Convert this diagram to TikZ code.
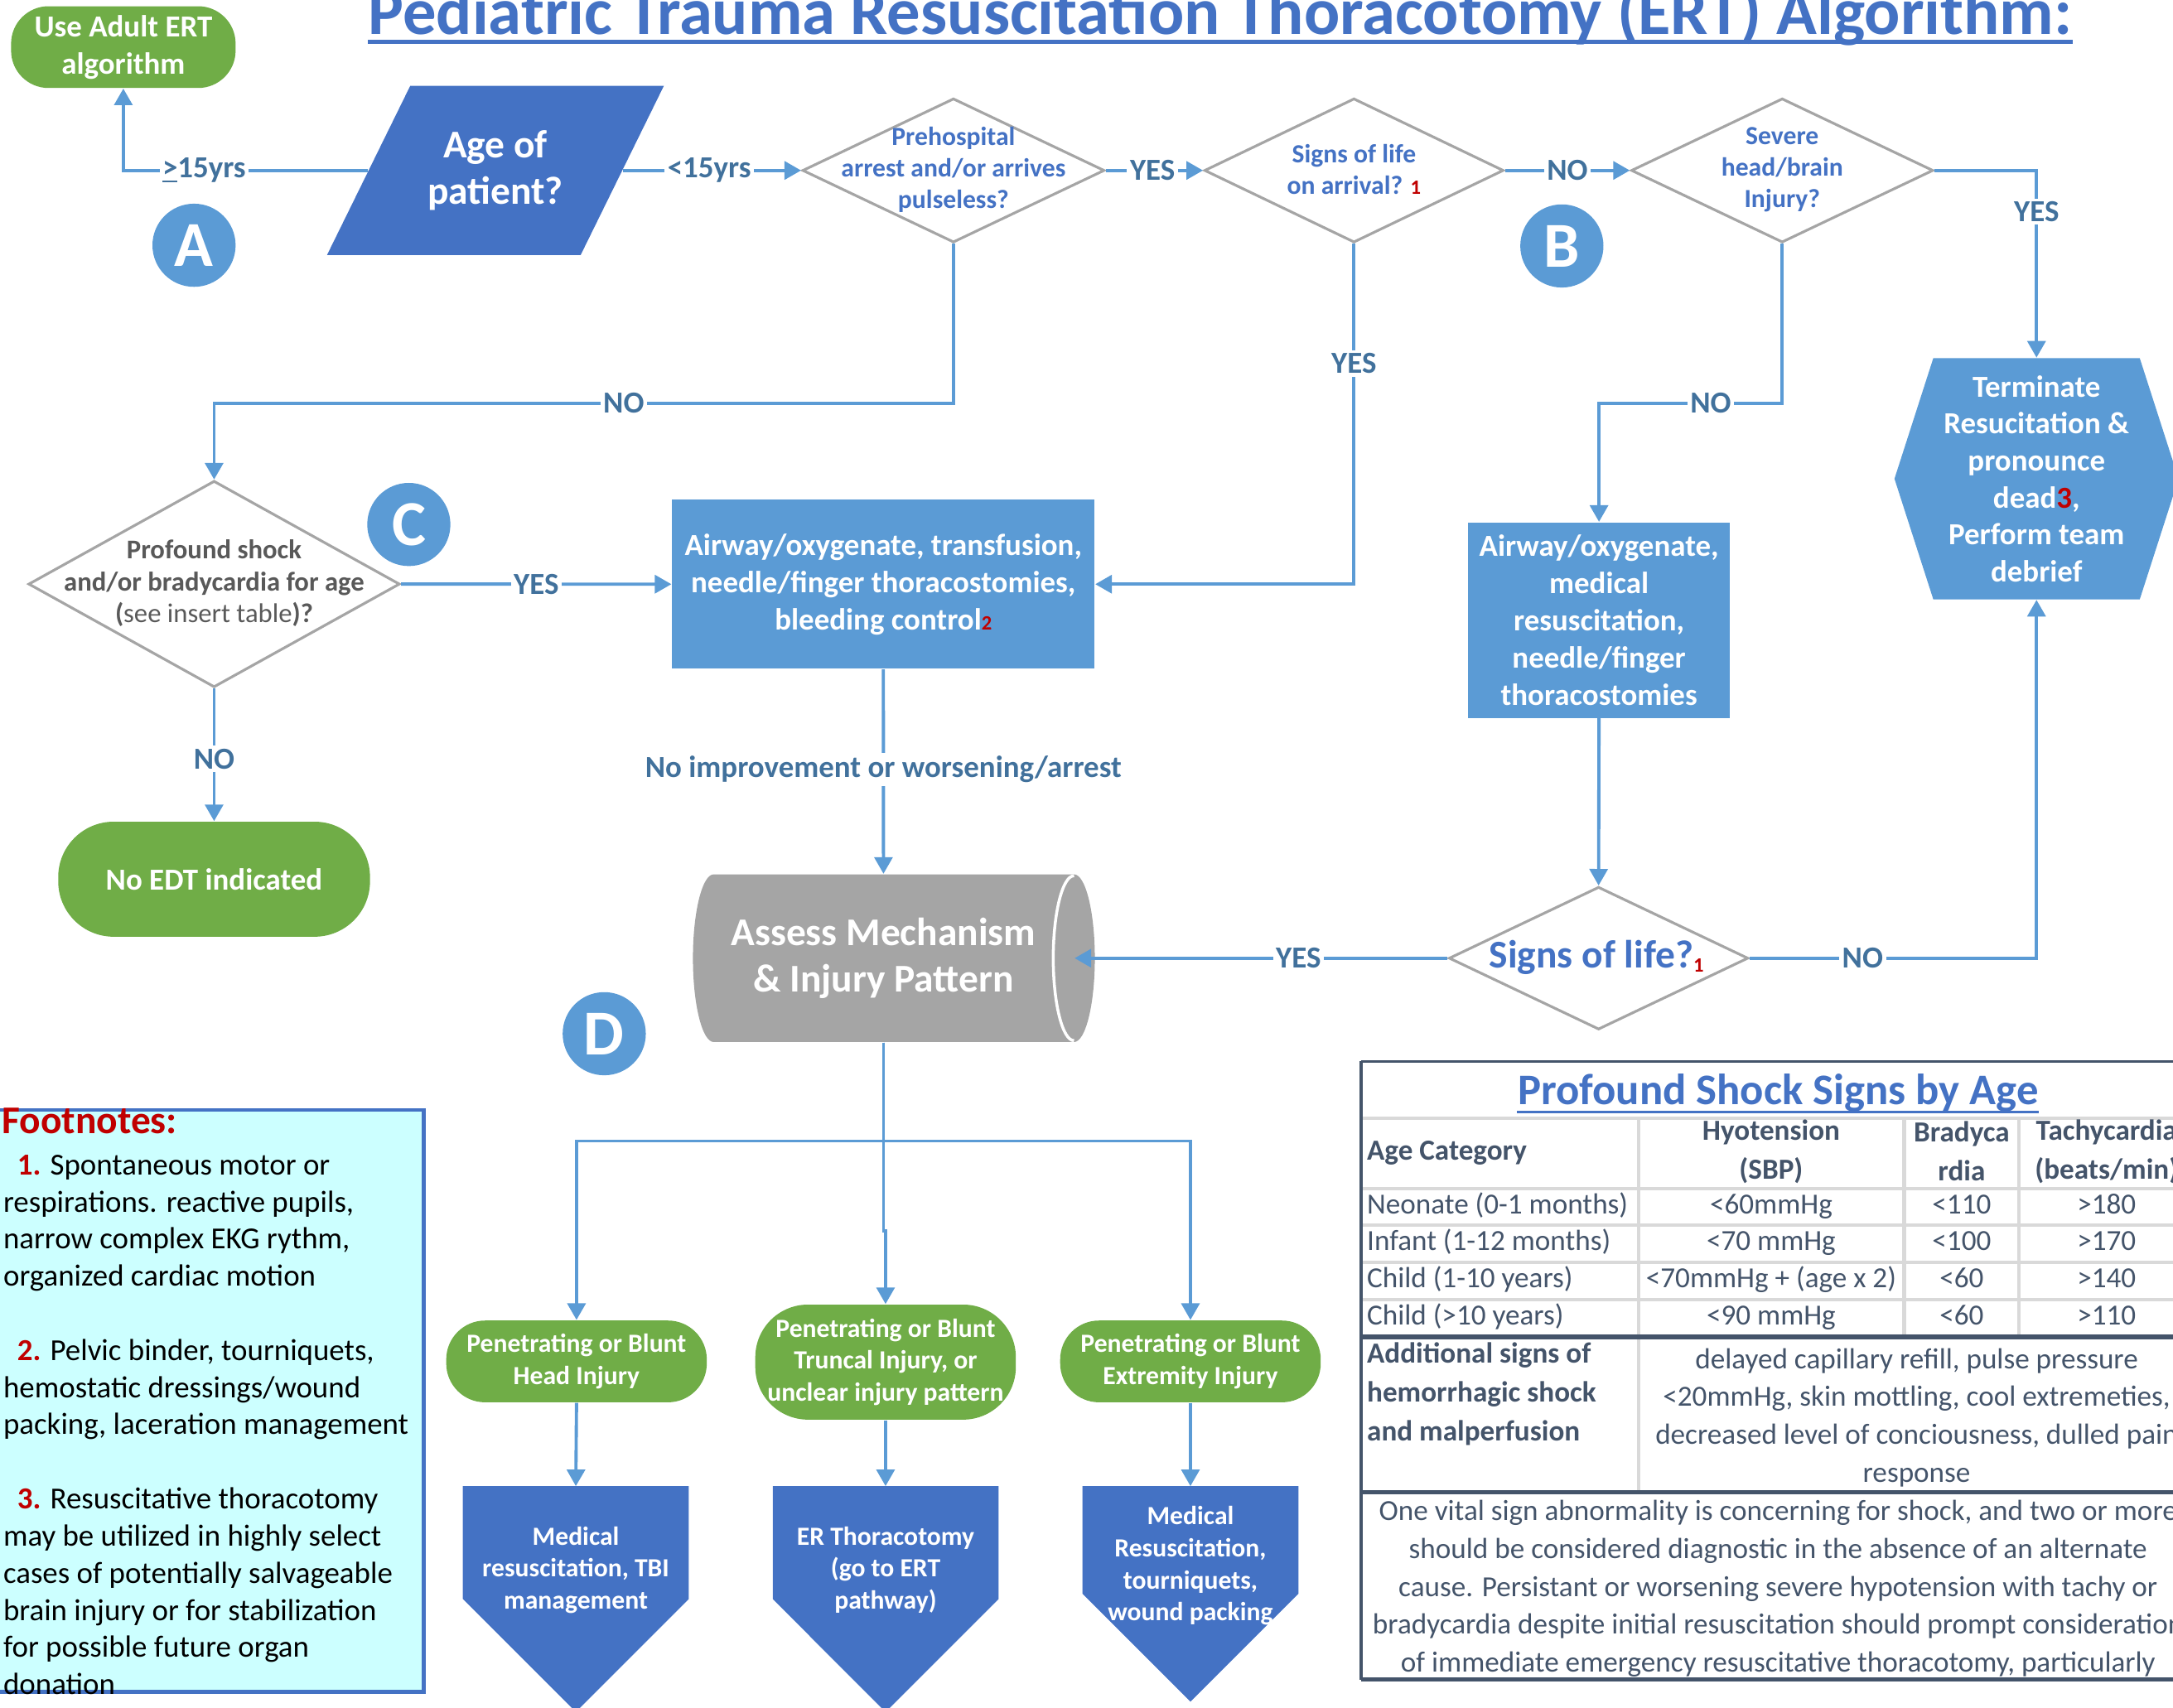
\documentclass[tikz,border=0pt]{standalone}
\usepackage{fontspec}
\setmainfont{Carlito}
\usetikzlibrary{shapes.geometric,arrows.meta,calc}
\definecolor{lineblue}{HTML}{5B9BD5}
\definecolor{labblue}{HTML}{41719C}
\definecolor{dkblue}{HTML}{4472C4}
\definecolor{grn}{HTML}{70AD47}
\definecolor{gry}{HTML}{A5A5A5}
\definecolor{fnred}{HTML}{C00000}
\definecolor{cyanfill}{HTML}{CCFFFF}
\definecolor{tabtxt}{HTML}{44546A}
\definecolor{tabline}{HTML}{D9D9D9}
\definecolor{dgrytxt}{HTML}{595959}
\def\px{0.016728cm}
\newcommand\myfs[2]{\fontsize{#1}{#2}\selectfont}
\tikzset{
  conn/.style={draw=lineblue, line width=1.1pt, -{Triangle[width=6.2pt,length=5.7pt]}},
  lab/.style={fill=white, text=labblue, font=\myfs{10.5}{12}\bfseries, inner sep=1pt},
  pill/.style={rectangle, fill=grn, text=white, align=center, inner sep=0pt},
  dia/.style={diamond, draw=gry, line width=0.9pt, fill=white, inner sep=0pt},
  diatxt/.style={text=dkblue, font=\myfs{9}{10.8}\bfseries, align=center, inner sep=0pt},
  bluebox/.style={rectangle, fill=lineblue, text=white, align=center, inner sep=0pt, font=\myfs{10.5}{12.8}\bfseries},
  circ/.style={circle, fill=lineblue, text=white, minimum size=60*\px, inner sep=0pt, font=\myfs{22}{24}\bfseries},
  wtxt/.style={text=white, align=center, inner sep=0pt},
  tc/.style={text=tabtxt, inner sep=0pt, font=\myfs{10}{13}, text height=7pt, text depth=2pt},
  tcb/.style={tc, font=\myfs{10}{13.3}\bfseries},
}
\begin{document}
\begin{tikzpicture}[x=0.016728cm, y=-0.016728cm]
\useasboundingbox (0,0) rectangle (1568,1232.1);
\clip (0,0) rectangle (1568,1232.1);

% title
\node[anchor=base, inner sep=0pt, text=dkblue] (title) at (880.5,25)
  {\resizebox{585pt}{!}{\myfs{20}{24}\bfseries Pediatric Trauma Resuscitation Thoracotomy (ERT) Algorithm:}};
\draw[dkblue, line width=1.3pt] ([yshift=-2.4pt]title.base west) -- ([yshift=-2.4pt]title.base east);

% top row
\node[pill, rounded corners=27*\px, minimum width=162*\px, minimum height=59*\px,
      font=\myfs{10.5}{12.8}\bfseries] (adult) at (89,34) {Use Adult ERT\\algorithm};
\fill[dkblue] (296,62) -- (479,62) -- (419,184) -- (236,184) -- cycle;
\node[wtxt, minimum width=183*\px, minimum height=122*\px, font=\myfs{13.5}{15.8}\bfseries] (age) at (357.5,123) {Age of\\patient?};
\node[circ] (cA) at (140,177) {A};

\node[dia, minimum width=218*\px, minimum height=104*\px] (d1) at (688,123) {};
\node[diatxt] (d1t) at (688,122.5) {Prehospital\\arrest and/or arrives\\pulseless?};
\node[dia, minimum width=216*\px, minimum height=104*\px] (d2) at (977,123) {};
\node[diatxt] (d2t) at (977,122.5) {Signs of life\\on arrival? {\color{fnred}\myfs{7}{8}1}};
\node[dia, minimum width=218*\px, minimum height=104*\px] (d3) at (1286,123) {};
\node[diatxt] (d3t) at (1286,122.5) {Severe\\head/brain\\Injury?};
\node[circ] (cB) at (1127,177.5) {B};

% terminate hexagon
\fill[lineblue] (1395,258.5) -- (1544,258.5) -- (1572,345.5) -- (1544,432.5) -- (1395,432.5) -- (1367,345.5) -- cycle;
\node[bluebox, fill=none, minimum width=205*\px, minimum height=174*\px, font=\myfs{10.5}{12.7}\bfseries] (term) at (1469.5,345.5)
  {Terminate\\Resucitation \&\\pronounce\\dead{\color{fnred}3},\\Perform team\\debrief};

% middle row
\node[dia, minimum width=268*\px, minimum height=149*\px] (dC) at (154.5,421.5) {};
\node[diatxt, text=dgrytxt, font=\myfs{9.3}{11}\bfseries] (dCt) at (154.5,421) {Profound shock\\and/or bradycardia for age\\({\mdseries see insert table})?};
\node[circ] (cC) at (295,378.5) {C};
\node[bluebox, minimum width=305*\px, minimum height=122*\px] (box1) at (637.4,421.6)
  {Airway/oxygenate, transfusion,\\needle/finger thoracostomies,\\bleeding control{\color{fnred}\myfs{7}{8}2}};
\node[bluebox, minimum width=188.5*\px, minimum height=141*\px] (box2) at (1153.8,447.5)
  {Airway/oxygenate,\\medical\\resuscitation,\\needle/finger\\thoracostomies};
\node[pill, rounded corners=40*\px, minimum width=225*\px, minimum height=83*\px,
      font=\myfs{10.5}{12.8}\bfseries] (noedt) at (154.5,634.5) {No EDT indicated};

% cylinder
\fill[gry] (515,631) -- (775,631) arc[start angle=-90,end angle=90,x radius=15,y radius=60.5]
  -- (515,752) arc[start angle=90,end angle=270,x radius=15,y radius=60.5] -- cycle;
\draw[white, line width=1pt] (775,632) arc[start angle=-90,end angle=-270,x radius=15,y radius=59.5];
\node[wtxt, minimum width=275*\px, minimum height=121*\px, font=\myfs{13.5}{15.8}\bfseries] (cyl) at (637.5,691.5) {Assess Mechanism\\\& Injury Pattern};
\node[circ] (cD) at (436,746) {D};

\node[dia, minimum width=216*\px, minimum height=103*\px] (dS) at (1153.5,691.5) {};
\node[diatxt, font=\myfs{13.5}{15}\bfseries] (dSt) at (1152,691) {Signs of life?{\color{fnred}\myfs{7}{8}\raisebox{-0.4ex}{1}}};

% bottom pills
\node[pill, rounded corners=28*\px, minimum width=188*\px, minimum height=59*\px, font=\myfs{9}{11}\bfseries] (pH) at (416,982.5) {Penetrating or Blunt\\Head Injury};
\node[pill, rounded corners=38*\px, minimum width=188*\px, minimum height=83*\px, font=\myfs{9}{11}\bfseries] (pT) at (639,983) {Penetrating or Blunt\\Truncal Injury, or\\unclear injury pattern};
\node[pill, rounded corners=28*\px, minimum width=188*\px, minimum height=59*\px, font=\myfs{9}{11}\bfseries] (pE) at (859,982.5) {Penetrating or Blunt\\Extremity Injury};

% pentagons
\fill[dkblue] (334,1072.5) -- (497,1072.5) -- (497,1154) -- (415.5,1235.5) -- (334,1154) -- cycle;
\fill[dkblue] (557.6,1072.5) -- (720.5,1072.5) -- (720.5,1154) -- (639,1235.5) -- (557.6,1154) -- cycle;
\fill[dkblue] (781,1072.5) -- (937,1072.5) -- (937,1150) -- (859,1228) -- (781,1150) -- cycle;
\coordinate (pgHtop) at (415.5,1072.5);
\coordinate (pgTtop) at (639,1072.5);
\coordinate (pgEtop) at (859,1072.5);
\node[wtxt, font=\myfs{9}{11}\bfseries] (pgHt) at (415.5,1133) {Medical\\resuscitation, TBI\\management};
\node[wtxt, font=\myfs{9}{11}\bfseries] (pgTt) at (639,1133) {ER Thoracotomy\\(go to ERT\\pathway)};
\node[wtxt, font=\myfs{9}{11}\bfseries] (pgEt) at (859,1130) {Medical\\Resuscitation,\\tourniquets,\\wound packing};

% connectors
\draw[conn] (age.west) -| node[lab, pos=0.335]{\underline{>}15yrs} (adult.south);
\draw[conn] (age.east) -- node[lab, pos=0.485]{<15yrs} (d1.west);
\draw[conn] (d1.east) -- node[lab, pos=0.48]{YES} (d2.west);
\draw[conn] (d2.east) -- node[lab]{NO} (d3.west);
\draw[conn] (d3.east) -| node[lab, pos=0.61]{YES} (term.north);
\draw[conn] (d1.south) -- ++(0,115) -| node[lab, pos=0.223]{NO} (dC.north);
\draw[conn] (d2.south) |- node[lab, pos=0.176]{YES} (box1.east);
\draw[conn] (d3.south) -- ++(0,115) -| node[lab, pos=0.195]{NO} (box2.north);
\draw[conn] (dC.east) -- node[lab]{YES} (box1.west);
\draw[conn] (dC.south) -- node[lab, pos=0.53]{NO} (noedt.north);
\draw[conn] (box1.south) -- node[lab, pos=0.49]{No improvement or worsening/arrest} (cyl.north);
\draw[conn] (box2.south) -- (dS.north);
\draw[conn] (dS.west) -- node[lab, pos=0.40]{YES} (cyl.east);
\draw[conn] (dS.east) -| node[lab, pos=0.197]{NO} (term.south);
\draw[conn] (cyl.south) -- ++(0,71) -| (pH.north);
\draw[conn] (cyl.south) -- ++(0,71) -| (pE.north);
\draw[conn] (cyl.south) -- ++(0,136) -| (pT.north);
\draw[conn] (pH.south) -- (pgHtop);
\draw[conn] (pT.south) -- (pgTtop);
\draw[conn] (pE.south) -- (pgEtop);

% footnotes
\node[draw=dkblue, fill=cyanfill, line width=1.3pt, minimum width=320*\px, minimum height=420*\px, inner sep=0pt] (fnbox) at (145.8,1011) {};
\node[anchor=base west, inner sep=0pt, text=fnred, font=\myfs{13.5}{16}\bfseries] (fnhead) at (1,818) {Footnotes:};
\node[anchor=north west, inner sep=0pt, align=left, font=\myfs{10.5}{12.75}] (fntext) at (2,833) {%
\hspace*{4.8pt}\textcolor{fnred}{\textbf{1.}} Spontaneous motor or\\
respirations. reactive pupils,\\
narrow complex EKG rythm,\\
organized cardiac motion\\[12.75pt]
\hspace*{4.8pt}\textcolor{fnred}{\textbf{2.}} Pelvic binder, tourniquets,\\
hemostatic dressings/wound\\
packing, laceration management\\[12.75pt]
\hspace*{4.8pt}\textcolor{fnred}{\textbf{3.}} Resuscitative thoracotomy\\
may be utilized in highly select\\
cases of potentially salvageable\\
brain injury or for stabilization\\
for possible future organ\\
donation};

% table lines
\draw[tabline, line width=1.2pt] (982,807) -- (1590,807) (982,858) -- (1590,858) (982,884) -- (1590,884)
  (982,911) -- (1590,911) (982,938) -- (1590,938);
\draw[tabline, line width=1.2pt] (1182.5,807) -- (1182.5,1077) (1374,807) -- (1374,965) (1457,807) -- (1457,965);
\draw[tabtxt, line width=0.8pt] (982,766) -- (1590,766);
\draw[tabtxt, line width=1.6pt] (982,965) -- (1590,965) (982,1077) -- (1590,1077) (982,1212) -- (1590,1212);
\draw[tabtxt, line width=1pt] (982,766) -- (982,1212);

% table text
\node[anchor=base, inner sep=0pt, text=dkblue, font=\myfs{15}{18}\bfseries] (ttitle) at (1283,797) {Profound Shock Signs by Age};
\draw[dkblue, line width=1pt] ([yshift=-2.6pt]ttitle.base west) -- ([yshift=-2.6pt]ttitle.base east);
\node[tcb, anchor=west] (h1) at (986,832) {Age Category};
\node[tcb, align=center, text height=, text depth=] (h2) at (1278,831) {Hyotension\\(SBP)};
\node[tcb, align=center, text height=, text depth=] (h3) at (1415.5,831) {Bradyca\\rdia};
\node[tcb, align=center, text height=, text depth=] (h4) at (1520,831) {Tachycardia\\(beats/min)};
\node[tc, anchor=west] (r1a) at (986,871) {Neonate (0-1 months)};
\node[tc] (r1b) at (1278,871) {<60mmHg};
\node[tc] (r1c) at (1415.5,871) {<110};
\node[tc] (r1d) at (1520,871) {>180};
\node[tc, anchor=west] (r2a) at (986,897) {Infant (1-12 months)};
\node[tc] (r2b) at (1278,897) {<70 mmHg};
\node[tc] (r2c) at (1415.5,897) {<100};
\node[tc] (r2d) at (1520,897) {>170};
\node[tc, anchor=west] (r3a) at (986,924) {Child (1-10 years)};
\node[tc] (r3b) at (1278,924) {<70mmHg + (age x 2)};
\node[tc] (r3c) at (1415.5,924) {<60};
\node[tc] (r3d) at (1520,924) {>140};
\node[tc, anchor=west] (r4a) at (986,951) {Child (>10 years)};
\node[tc] (r4b) at (1278,951) {<90 mmHg};
\node[tc] (r4c) at (1415.5,951) {<60};
\node[tc] (r4d) at (1520,951) {>110};
\node[tcb, anchor=west, align=left, text height=, text depth=] (adda) at (986,1006) {Additional signs of\\hemorrhagic shock\\and malperfusion};
\node[tc, align=center, text height=, text depth=] (addb) at (1383,1023) {delayed capillary refill, pulse pressure\\<20mmHg, skin mottling, cool extremeties,\\decreased level of conciousness, dulled pain\\response};
\node[tc, align=center, text height=, text depth=] (note) at (1283,1146.5) {One vital sign abnormality is concerning for shock, and two or more\\should be considered diagnostic in the absence of an alternate\\cause. Persistant or worsening severe hypotension with tachy or\\bradycardia despite initial resuscitation should prompt consideration\\of immediate emergency resuscitative thoracotomy, particularly};
\end{tikzpicture}
\end{document}
